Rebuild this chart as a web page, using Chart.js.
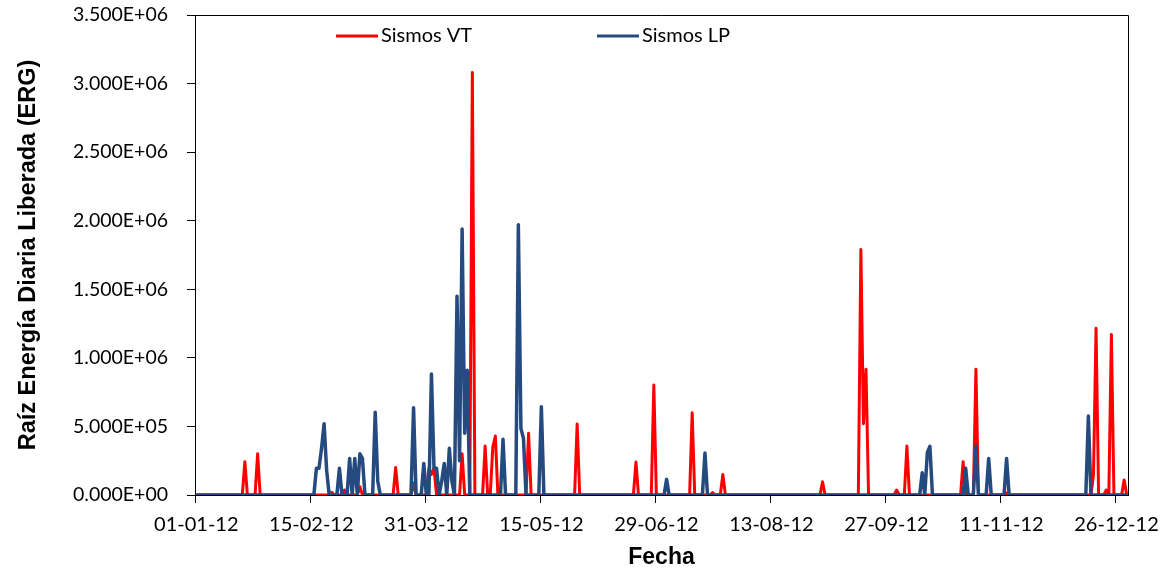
<!DOCTYPE html>
<html>
<head>
<meta charset="utf-8">
<script src="https://cdn.jsdelivr.net/npm/chart.js@4.4.0/dist/chart.umd.min.js"></script>
<style>
  html, body { margin: 0; padding: 0; background: #fff; }
  #wrap { width: 1169px; height: 575px; }
</style>
</head>
<body>
<div id="wrap"><canvas id="energyChart" width="1169" height="575"></canvas></div>
<script>
// tick labels
const xTickLabels = ['01-01-12', '15-02-12', '31-03-12', '15-05-12', '29-06-12', '13-08-12', '27-09-12', '11-11-12', '26-12-12'];
const yTickLabels = ['0.000E+00', '5.000E+05', '1.000E+06', '1.500E+06', '2.000E+06', '2.500E+06', '3.000E+06', '3.500E+06'];

// Sismos VT: days with energy (all other days are 0)
const vtDates = [
  '20-01-12', '25-01-12', '23-02-12', '28-02-12', '05-03-12', '19-03-12', '26-03-12',
  '01-04-12', '02-04-12', '03-04-12', '14-04-12', '18-04-12', '23-04-12', '26-04-12', '27-04-12',
  '10-05-12', '29-05-12', '21-06-12', '28-06-12', '13-07-12', '21-07-12', '25-07-12',
  '02-09-12', '17-09-12', '18-09-12', '19-09-12', '01-10-12', '05-10-12', '27-10-12',
  '01-11-12', '13-11-12', '17-12-12', '18-12-12', '22-12-12', '24-12-12', '29-12-12'
];
const vtValues = [
  243000, 300000, 20000, 36000, 60000, 200000, 87000,
  195000, 150000, 195000, 300000, 3080000, 357000, 350000, 430000,
  450000, 518000, 240000, 802000, 600000, 17000, 150000,
  97000, 1790000, 520000, 917000, 36000, 357000, 243000,
  917000, 15000, 146000, 1215000, 36000, 1170000, 110000
];

// Sismos LP: days with energy (all other days are 0)
const lpDates = [
  '17-02-12', '18-02-12', '19-02-12', '20-02-12', '21-02-12', '26-02-12',
  '01-03-12', '03-03-12', '05-03-12', '06-03-12', '11-03-12', '12-03-12', '26-03-12', '30-03-12',
  '02-04-12', '03-04-12', '04-04-12', '06-04-12', '07-04-12', '09-04-12', '10-04-12',
  '12-04-12', '13-04-12', '14-04-12', '15-04-12', '16-04-12', '30-04-12',
  '06-05-12', '07-05-12', '08-05-12', '15-05-12', '03-07-12', '18-07-12',
  '11-10-12', '13-10-12', '14-10-12', '28-10-12', '01-11-12', '06-11-12', '13-11-12', '15-12-12'
];
const lpValues = [
  195000, 195000, 340000, 520000, 180000, 195000,
  267000, 267000, 300000, 267000, 603000, 100000, 637000, 230000,
  882000, 195000, 195000, 100000, 230000, 340000, 100000,
  1450000, 250000, 1940000, 450000, 910000, 406000,
  1970000, 486000, 413000, 644000, 114000, 306000,
  163000, 310000, 355000, 195000, 357000, 267000, 267000, 576000
];

// one category per day, 01-01-12 .. 30-12-12
const days = [];
const last = Date.UTC(2012, 11, 30);
for (let t = Date.UTC(2012, 0, 1); t <= last; t += 86400000) {
  const d = new Date(t);
  days.push(String(d.getUTCDate()).padStart(2, '0') + '-' + String(d.getUTCMonth() + 1).padStart(2, '0') + '-12');
}

function dailySeries(dates, values) {
  return days.map(day => {
    const i = dates.indexOf(day);
    return i === -1 ? 0 : values[i];
  });
}

const vtColor = '#ff0000';
const lpColor = '#254a80';

// plot frame + legend placed over the top of the plot
const frameAndLegend = {
  id: 'frameAndLegend',
  afterDraw(chart) {
    const { ctx, chartArea: a } = chart;
    ctx.save();
    ctx.strokeStyle = '#000';
    ctx.lineWidth = 1;
    ctx.beginPath();
    ctx.moveTo(a.left, a.top + 0.5);
    ctx.lineTo(a.right + 0.5, a.top + 0.5);
    ctx.lineTo(a.right + 0.5, a.bottom);
    ctx.stroke();

    const spots = [336, 597];
    chart.data.datasets.forEach((ds, i) => {
      const x = spots[i];
      ctx.strokeStyle = ds.borderColor;
      ctx.lineWidth = 3;
      ctx.beginPath();
      ctx.moveTo(x, 36);
      ctx.lineTo(x + 42, 36);
      ctx.stroke();
      ctx.fillStyle = '#000';
      ctx.font = '20px Lato';
      ctx.textBaseline = 'middle';
      ctx.textAlign = 'left';
      ctx.fillText(ds.label, x + 45, 36);
    });
    ctx.restore();
  }
};

Chart.defaults.font.family = 'Lato';
Chart.defaults.color = '#000';

const context = document.getElementById('energyChart').getContext('2d');
const chart = new Chart(context, {
  type: 'line',
  data: {
    labels: days,
    datasets: [
      {
        label: 'Sismos VT',
        data: dailySeries(vtDates, vtValues),
        borderColor: vtColor,
        backgroundColor: vtColor,
        borderWidth: 3,
        borderJoinStyle: 'round',
        pointRadius: 0,
        tension: 0,
        order: 2
      },
      {
        label: 'Sismos LP',
        data: dailySeries(lpDates, lpValues),
        borderColor: lpColor,
        backgroundColor: lpColor,
        borderWidth: 3.5,
        borderJoinStyle: 'round',
        pointRadius: 0,
        tension: 0,
        order: 1
      }
    ]
  },
  options: {
    responsive: false,
    animation: false,
    devicePixelRatio: 1,
    layout: { padding: { top: 0, right: 41, left: 0, bottom: 0 } },
    plugins: {
      legend: { display: false },
      tooltip: { enabled: false }
    },
    scales: {
      x: {
        offset: true,
        grid: {
          offset: true,
          drawOnChartArea: false,
          tickLength: 8,
          color: ctx => xTickLabels.includes(days[ctx.index]) ? '#000' : 'rgba(0,0,0,0)'
        },
        border: { color: '#000', width: 1 },
        ticks: {
          autoSkip: false,
          maxRotation: 0,
          padding: 10,
          font: { size: 20 },
          color: '#000',
          callback: (v, i) => xTickLabels.includes(days[i]) ? days[i] : ''
        },
        title: {
          display: true,
          text: 'Fecha',
          color: '#000',
          font: { family: 'Liberation Sans', size: 23, weight: 'bold' },
          padding: { top: 0, bottom: 4 }
        },
        afterFit: s => { s.height = 80; }
      },
      y: {
        min: 0,
        max: 3500000,
        grid: { drawOnChartArea: false, tickLength: 8, color: '#000' },
        border: { color: '#000', width: 1 },
        ticks: {
          stepSize: 500000,
          padding: 19,
          font: { size: 19.5 },
          color: '#000',
          callback: (v, i) => yTickLabels[i]
        },
        title: {
          display: true,
          text: 'Raíz Energía Diaria Liberada (ERG)',
          color: '#000',
          font: { family: 'Liberation Sans', size: 23.5, weight: 'bold' },
          padding: { top: 14, bottom: 0 }
        },
        afterFit: s => {
          s.width = 195;
          s.paddingTop = 15;
          s.paddingBottom = 0;
        }
      }
    }
  },
  plugins: [frameAndLegend]
});
</script>
</body>
</html>
